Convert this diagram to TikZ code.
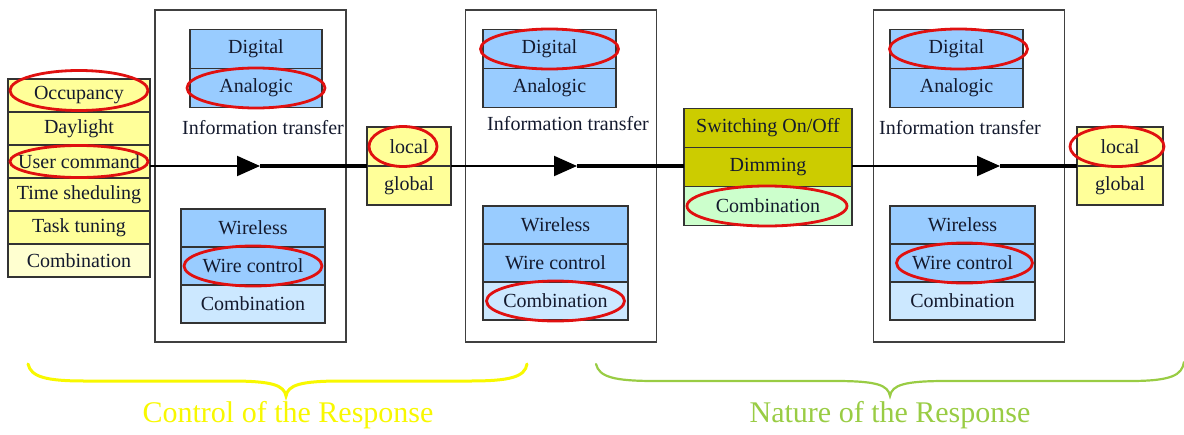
\documentclass[tikz,border=0pt]{standalone}
\usepackage{fontspec}
\setmainfont{Liberation Serif}
\usepackage{tikz}
\usetikzlibrary{positioning, arrows.meta}
\definecolor{listyellow}{HTML}{FFFF99}
\definecolor{paleyellow}{HTML}{FFFFD0}
\definecolor{cellblue}{HTML}{99CCFF}
\definecolor{paleblue}{HTML}{CCE8FF}
\definecolor{oliveyellow}{HTML}{CCCC00}
\definecolor{palegreen}{HTML}{CCFFCC}
\definecolor{ringred}{HTML}{E01010}
\definecolor{braceyellow}{HTML}{F8F800}
\definecolor{bracegreen}{HTML}{99CC44}
\definecolor{inkblue}{HTML}{141A2E}

\begin{document}
\begin{tikzpicture}[
    x=0.5pt, y=-0.5pt,
    row/.style={draw=black!80, line width=0.6pt, inner sep=0pt, outer sep=0pt, text=inkblue, font=\rmfamily\fontsize{10}{11}\selectfont},
    listrow/.style={row, fill=listyellow, minimum width=71pt, minimum height=16.5pt},
    cell/.style={row, fill=cellblue, minimum height=19.5pt},
    frame/.style={draw=black!75, line width=0.7pt, minimum width=95.5pt, minimum height=166pt, inner sep=0pt},
    caption/.style={text=inkblue, font=\rmfamily\fontsize{10}{11}\selectfont},
    ring/.style={draw=ringred, line width=1.4pt},
    feed/.style={line width=1pt, -{Triangle[length=11.5pt, width=10pt]}},
    trunk/.style={line width=2pt},
    brace/.style={line width=1.5pt, line cap=round},
    bracetext/.style={font=\rmfamily\fontsize{15}{17}\selectfont}
]
    \useasboundingbox (0,0) rectangle (1184,434);

    % Stimulus list
    \node[listrow] (occ) at (79,95.5) {Occupancy};
    \node[listrow, below=0pt of occ] (day) {Daylight};
    \node[listrow, below=0pt of day] (user) {User command};
    \node[listrow, below=0pt of user] (time) {Time sheduling};
    \node[listrow, below=0pt of time] (task) {Task tuning};
    \node[listrow, below=0pt of task, fill=paleyellow] (combo) {Combination};

    % First transfer block
    \node[frame] (frameA) at (250.5,176) {};
    \node[cell, minimum width=66pt] (digA) at (256,49) {Digital};
    \node[cell, minimum width=66pt, below=0pt of digA] (anaA) {Analogic};
    \node[caption] (infoA) at (263,128) {Information transfer};
    \node[cell, minimum width=72pt, minimum height=19pt] (wlsA) at (253,228) {Wireless};
    \node[cell, minimum width=72pt, minimum height=19pt, below=0pt of wlsA] (wireA) {Wire control};
    \node[cell, minimum width=72pt, minimum height=19pt, below=0pt of wireA, fill=paleblue] (cmbA) {Combination};

    % Scope
    \node[row, fill=listyellow, minimum width=42pt, minimum height=19.5pt] (locA) at (409,146.5) {local};
    \node[row, fill=listyellow, minimum width=42pt, minimum height=19.5pt, below=0pt of locA] (globA) {global};

    % Second transfer block
    \node[frame] (frameB) at (561,176) {};
    \node[cell, minimum width=66.5pt] (digB) at (549.5,49) {Digital};
    \node[cell, minimum width=66.5pt, below=0pt of digB] (anaB) {Analogic};
    \node[caption] (infoB) at (568,124) {Information transfer};
    \node[cell, minimum width=72.5pt, minimum height=19pt] (wlsB) at (555.5,225) {Wireless};
    \node[cell, minimum width=72.5pt, minimum height=19pt, below=0pt of wlsB] (wireB) {Wire control};
    \node[cell, minimum width=72.5pt, minimum height=19pt, below=0pt of wireB, fill=paleblue] (cmbB) {Combination};

    % Response type
    \node[row, fill=oliveyellow, minimum width=84pt, minimum height=19.5pt] (switch) at (768,128) {Switching On/Off};
    \node[row, fill=oliveyellow, minimum width=84pt, minimum height=19.5pt, below=0pt of switch] (dim) {Dimming};
    \node[row, fill=palegreen, minimum width=84pt, minimum height=19.5pt, below=0pt of dim] (cmbS) {Combination};

    % Third transfer block
    \node[frame] (frameC) at (969,176) {};
    \node[cell, minimum width=66.5pt] (digC) at (956.5,49) {Digital};
    \node[cell, minimum width=66.5pt, below=0pt of digC] (anaC) {Analogic};
    \node[caption] (infoC) at (960,128) {Information transfer};
    \node[cell, minimum width=72.5pt, minimum height=19pt] (wlsC) at (962.5,225) {Wireless};
    \node[cell, minimum width=72.5pt, minimum height=19pt, below=0pt of wlsC] (wireC) {Wire control};
    \node[cell, minimum width=72.5pt, minimum height=19pt, below=0pt of wireC, fill=paleblue] (cmbC) {Combination};

    % Scope (output)
    \node[row, fill=listyellow, minimum width=43pt, minimum height=19.5pt] (locB) at (1120,146.5) {local};
    \node[row, fill=listyellow, minimum width=43pt, minimum height=19.5pt, below=0pt of locB] (globB) {global};

    % Flow
    \coordinate (tipA) at (260,166);
    \coordinate (tipB) at (577,166);
    \coordinate (tipC) at (1000,166);
    \draw[feed] (user.east |- tipA) -- (tipA);
    \draw[trunk] (tipA) -- (locA.south west);
    \draw[feed] (locA.south east) -- (tipB);
    \draw[trunk] (tipB) -- (dim.west |- tipB);
    \draw[feed] (dim.east |- tipC) -- (tipC);
    \draw[trunk] (tipC) -- (locB.south west);

    % Selected options
    \draw[ring] ([yshift=2.5pt]occ.center) ellipse [x radius=34.5pt, y radius=10pt];
    \draw[ring] (user.center) ellipse [x radius=34.5pt, y radius=8pt];
    \draw[ring] (anaA.center) ellipse [x radius=34.5pt, y radius=10pt];
    \draw[ring] (wireA.center) ellipse [x radius=34.5pt, y radius=10pt];
    \draw[ring] ([xshift=-3pt]locA.center) ellipse [x radius=17pt, y radius=10pt];
    \draw[ring] (digB.center) ellipse [x radius=34.5pt, y radius=10pt];
    \draw[ring] (cmbB.center) ellipse [x radius=34.5pt, y radius=10pt];
    \draw[ring] ([xshift=-0.5pt]cmbS.center) ellipse [x radius=40pt, y radius=10pt];
    \draw[ring] ([xshift=1pt]digC.center) ellipse [x radius=34.5pt, y radius=10pt];
    \draw[ring] ([xshift=1pt]wireC.center) ellipse [x radius=34pt, y radius=10pt];
    \draw[ring] ([xshift=-1.5pt]locB.center) ellipse [x radius=23.5pt, y radius=10pt];

    % Braces
    \draw[brace, draw=braceyellow] (28,364) .. controls (31,377) and (46,381) .. (85,381)
        -- (230,381) .. controls (272,381) and (284,385) .. (286,396)
        .. controls (288,385) and (300,381) .. (342,381) -- (470,381)
        .. controls (510,381) and (525,377) .. (527,364);
    \draw[brace, draw=bracegreen, line width=1.1pt] (596,364) .. controls (599,377) and (614,381) .. (655,381)
        -- (835,381) .. controls (877,381) and (888,385) .. (890,396)
        .. controls (892,385) and (904,381) .. (946,381) -- (1130,381)
        .. controls (1172,381) and (1182,375) .. (1184,362);
    \node[bracetext, text=braceyellow] (ctrlLbl) at (288,415) {Control of the Response};
    \node[bracetext, text=bracegreen] (natLbl) at (890,415) {Nature of the Response};
\end{tikzpicture}
\end{document}
